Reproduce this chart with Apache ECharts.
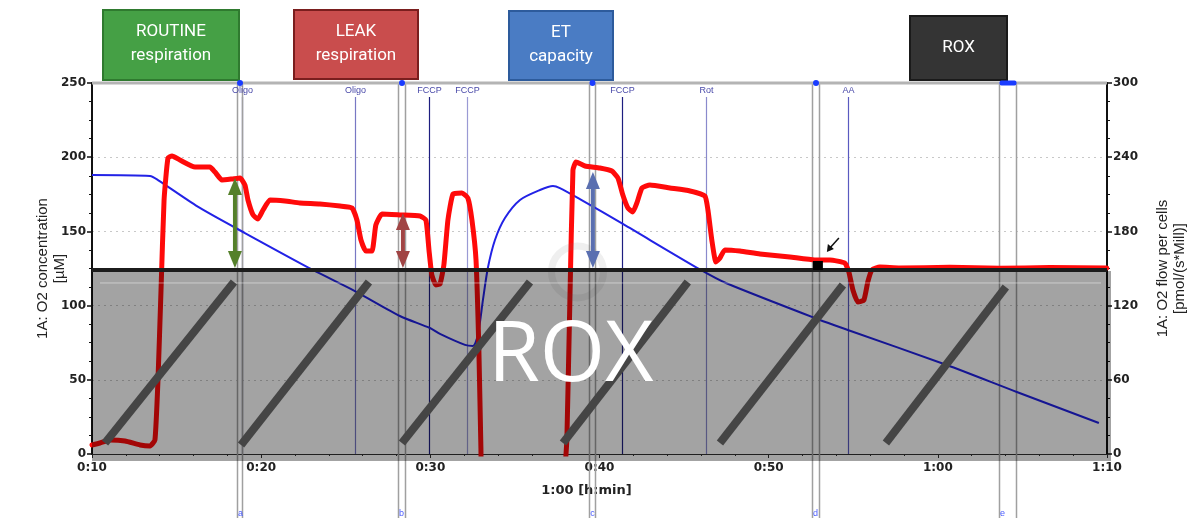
<!DOCTYPE html>
<html>
<head>
<meta charset="utf-8">
<script src="https://cdn.jsdelivr.net/npm/echarts@6/dist/echarts.min.js"></script>
<style>
  html, body { margin: 0; padding: 0; background: #fff; }
  #chart { width: 1192px; height: 518px; }
</style>
</head>
<body>
<div id="chart"></div>
<script>
// O2 flow per cells (red, right axis): [time min, pmol/(s*Mill)]
const flowPoints = [
  [10.0, 7.3], [10.47, 8.9], [11.06, 11.3], [11.95, 10.5], [12.84, 7.3], [13.43, 6.5], [13.72, 11.3],
  [13.90, 59.8], [14.08, 132.6], [14.26, 205.4], [14.49, 239.3], [14.73, 241], [15.2, 237.7],
  [16.09, 232], [16.97, 232], [17.27, 228], [17.68, 221.6], [18.27, 222.4], [18.75, 223.2],
  [19.04, 217.5], [19.22, 205.4], [19.52, 193.3], [19.81, 190], [20.11, 197.3], [20.52, 205.4],
  [21.41, 204.6], [22.29, 203], [23.47, 202.2], [24.66, 200.5], [25.37, 198.9], [25.66, 189.2],
  [25.90, 173], [26.19, 164.1], [26.55, 164.1], [26.78, 185.2], [27.14, 194], [28.20, 193.3],
  [29.39, 192.4], [29.74, 189.2], [29.92, 165], [30.09, 144.7], [30.33, 136.7], [30.57, 137.5],
  [30.80, 152.8], [31.04, 189.2], [31.34, 210.2], [31.87, 211], [32.22, 207], [32.46, 189.2],
  [32.70, 156.9], [32.87, 84.1], [32.99, 4.9], [33.10, -40], [37.90, -40], [37.96, -13],
  [38.07, 11.3], [38.25, 124.5], [38.43, 229.6], [38.61, 236.1], [39.14, 232.9], [40.02, 231.3],
  [40.73, 228.8], [41.09, 223.2], [41.38, 209.4], [41.68, 198.9], [41.97, 195.7], [42.21, 203],
  [42.51, 215.1], [42.98, 217.5], [44.16, 215.1], [45.35, 212.7], [46.23, 208.6], [46.41, 197.3],
  [46.64, 173], [46.88, 155.3], [47.12, 158.5], [47.41, 165], [48.30, 164.1], [49.48, 161.7],
  [51.25, 159.3], [52.73, 156.9], [53.62, 156.9], [54.5, 154.4], [54.74, 147.2], [54.98, 132.6],
  [55.27, 122.9], [55.63, 124.5], [55.86, 139.1], [56.10, 148.8], [56.57, 151.2], [57.75, 150.4],
  [60.71, 151], [63.66, 150.2], [66.62, 150.8], [69.99, 150.4]
];

// O2 concentration (blue, left axis): [time min, µM]
const concPoints = [
  [10.0, 188], [13.43, 187.3], [13.9, 184.6], [16.38, 165.8], [19.04, 148.9], [23.06, 124],
  [25.54, 109.8], [28.20, 93], [29.98, 84.9], [30.57, 80.9], [32.05, 73.5], [32.52, 72.8],
  [32.81, 80.2], [33.11, 103.8], [33.40, 125.3], [33.82, 144.2], [34.41, 159], [35.30, 171.2],
  [36.48, 177.9], [37.25, 180.6], [37.66, 179.2], [38.84, 171.8], [41.38, 155], [45.99, 124],
  [47.47, 115.2], [53.03, 90.3], [54.68, 83.6], [60.53, 60], [64.67, 41.8], [69.52, 20.9]
];

// titration events
const eventNames = ['Oligo', 'Oligo', 'FCCP', 'FCCP', 'FCCP', 'Rot', 'AA'];
const eventTimes = [18.87, 25.54, 29.92, 32.16, 41.32, 46.29, 54.68];

// marks a..e (start / end time)
const markNames = ['a', 'b', 'c', 'd', 'e'];
const markStart = [18.57, 28.09, 39.37, 52.55, 63.61];
const markEnd = [18.87, 28.50, 39.73, 52.96, 64.61];

// slashes over the ROX box: [time, µM]
const slashFrom = [[10.77, 7.4], [18.81, 6.1], [28.32, 7.4], [37.84, 7.4], [47.12, 7.4], [56.93, 7.4]];
const slashTo = [[18.39, 115.9], [26.37, 115.9], [35.89, 115.9], [45.22, 115.9], [54.39, 113.9], [64.02, 112.5]];

// double arrows: time, top µM
const arrowTimes = [18.45, 28.38, 39.61];
const arrowTops = [186, 162.4, 190];
const roxLevel = 124; // µM, thick black line
const tickLabels = ['0:10', '0:20', '0:30', '0:40', '0:50', '1:00', '1:10'];

// state boxes
const stateLabels = ['ROUTINE\nrespiration', 'LEAK\nrespiration', 'ET\ncapacity', 'ROX'];

// styles
const eventColors = ['#3a3a9a', '#7878c4', '#1e1e80', '#9a9ad4', '#1e1e80', '#8a8acc', '#5a5ac0'];
const arrowColors = ['#55802a', '#a04444', '#5a6fb0'];
const boxStyle = [
  { x: 103, y: 10, w: 136, h: 70, fill: '#45a045', stroke: '#2f7a2f' },
  { x: 294, y: 10, w: 124, h: 69, fill: '#c94d4d', stroke: '#7a1e1e' },
  { x: 509, y: 11, w: 104, h: 69, fill: '#4a7cc4', stroke: '#2d5b9c' },
  { x: 910, y: 16, w: 97, h: 64, fill: '#343434', stroke: '#1a1a1a' }
];

const labelFont = { fontFamily: 'DejaVu Sans', fontWeight: 'bold', fontSize: 12, color: '#222' };

const chart = echarts.init(document.getElementById('chart'));

const option = {
  animation: false,
  backgroundColor: '#fff',
  grid: { left: 92, right: 85, top: 83, bottom: 64, outerBoundsMode: 'none', containLabel: false },
  xAxis: {
    type: 'value', min: 10, max: 70, interval: 10,
    name: '1:00 [h:min]', nameLocation: 'middle', nameGap: 30,
    nameTextStyle: { fontFamily: 'DejaVu Sans', fontWeight: 'bold', fontSize: 13, color: '#222', padding: [0, 26, 0, 0] },
    axisLine: { lineStyle: { color: '#333', width: 1 } },
    axisTick: { length: 4, lineStyle: { color: '#333' } },
    minorTick: { show: true, splitNumber: 5, length: 2, lineStyle: { color: '#333' } },
    axisLabel: Object.assign({ margin: 8, fontSize: 13,
      formatter: v => tickLabels[Math.round((v - 10) / 10)] }, labelFont),
    splitLine: { show: false }
  },
  yAxis: [
    {
      type: 'value', min: 0, max: 250, interval: 50, position: 'left',
      name: '1A: O2 concentration\n[µM]', nameLocation: 'middle', nameGap: 24, nameRotate: 90,
      nameMoveOverlap: false,
      nameTextStyle: { fontFamily: 'Liberation Sans', fontSize: 15, color: '#222', lineHeight: 17 },
      axisLine: { show: true, lineStyle: { color: '#111', width: 2 } },
      axisTick: { show: true, length: 5, lineStyle: { color: '#111', width: 1.5 } },
      minorTick: { show: true, splitNumber: 4, length: 3, lineStyle: { color: '#111' } },
      axisLabel: Object.assign({ margin: 6 }, labelFont),
      splitLine: { lineStyle: { color: '#c8c8c8', type: [2, 4] } }
    },
    {
      type: 'value', min: 0, max: 300, interval: 60, position: 'right',
      name: '1A: O2 flow per cells\n[pmol/(s*Mill)]', nameLocation: 'middle', nameGap: 47, nameRotate: 90,
      nameTextStyle: { fontFamily: 'Liberation Sans', fontSize: 15, color: '#222', lineHeight: 17 },
      axisLine: { show: true, lineStyle: { color: '#111', width: 2 } },
      axisTick: { show: true, length: 5, lineStyle: { color: '#111', width: 1.5 } },
      minorTick: { show: true, splitNumber: 4, length: 3, lineStyle: { color: '#111' } },
      axisLabel: Object.assign({ margin: 6 }, labelFont),
      splitLine: { show: false }
    }
  ],
  series: [
    {
      name: 'O2 concentration', type: 'line', yAxisIndex: 0, z: 2,
      data: concPoints, showSymbol: false, smooth: 0.25,
      lineStyle: { color: '#2222e6', width: 2 }
    },
    {
      name: 'O2 flow', type: 'line', yAxisIndex: 1, z: 2,
      data: flowPoints, showSymbol: false, smooth: 0.15,
      lineStyle: { color: '#ff0a0a', width: 5, cap: 'round', join: 'round' }
    }
  ].concat(slashFrom.map((p, i) => ({
    type: 'line', yAxisIndex: 0, z: 8, silent: true,
    data: [p, slashTo[i]], showSymbol: false,
    lineStyle: { color: '#454545', width: 8, cap: 'butt' }
  })))
};

chart.setOption(option);

const px = (t, v) => chart.convertToPixel({ xAxisIndex: 0, yAxisIndex: 0 }, [t, v]);
const H = 518;
const topY = px(10, 250)[1];
const botY = px(10, 0)[1];
const leftX = px(10, 0)[0];
const rightX = px(70, 0)[0];
const roxY = px(10, roxLevel)[1];

const g = [];

// frame top line
g.push({ type: 'line', z: 6, shape: { x1: leftX, y1: topY, x2: rightX, y2: topY },
  style: { stroke: '#b4b4b4', lineWidth: 3 } });

// event lines + labels
eventTimes.forEach((t, i) => {
  const x = Math.round(px(t, 0)[0]) + 0.5;
  g.push({ type: 'line', z: 1, shape: { x1: x, y1: topY + 14, x2: x, y2: botY },
    style: { stroke: eventColors[i], lineWidth: 1.2 } });
  g.push({ type: 'text', z: 6, x: x, y: topY + 8,
    style: { text: eventNames[i], fill: '#4848a8', font: '9px "Liberation Sans"', align: 'center', verticalAlign: 'middle' } });
});

// marks: double grey lines to bottom, blue marker on top, letter at bottom
markNames.forEach((m, i) => {
  const x1 = Math.round(px(markStart[i], 0)[0]) + 0.5;
  const x2 = Math.round(px(markEnd[i], 0)[0]) + 0.5;
  [x1, x2].forEach(x => g.push({ type: 'line', z: 1, shape: { x1: x, y1: topY, x2: x, y2: H },
    style: { stroke: '#a0a0a0', lineWidth: 1.5 } }));
  if (i === 4) {
    g.push({ type: 'rect', z: 7, shape: { x: x1, y: topY - 2.5, width: x2 - x1, height: 5, r: 2 },
      style: { fill: '#1a3cff' } });
  } else {
    g.push({ type: 'circle', z: 7, shape: { cx: (x1 + x2) / 2, cy: topY, r: 3 }, style: { fill: '#1a3cff' } });
  }
  g.push({ type: 'text', z: 7, x: x1 + 3, y: H - 4,
    style: { text: m, fill: '#4a5cff', font: '9px "Liberation Sans"', align: 'center', verticalAlign: 'middle' } });
});

// grey ROX overlay (semi-transparent so traces show through darker)
g.push({ type: 'rect', z: 5, shape: { x: leftX, y: roxY + 1, width: rightX - leftX + 4, height: botY - roxY + 6 },
  style: { fill: 'rgba(0,0,0,0.36)' } });
g.push({ type: 'line', z: 5, shape: { x1: leftX + 8, y1: roxY + 13, x2: rightX - 6, y2: roxY + 13 },
  style: { stroke: 'rgba(255,255,255,0.45)', lineWidth: 1 } });
// faint watermark ring
const wm = px(38.7, roxLevel);
g.push({ type: 'circle', z: 4, shape: { cx: wm[0], cy: wm[1] + 2, r: 26 },
  style: { fill: 'none', stroke: 'rgba(120,120,120,0.12)', lineWidth: 7 } });
// thick black ROX level line
g.push({ type: 'line', z: 9, shape: { x1: leftX, y1: roxY, x2: rightX, y2: roxY },
  style: { stroke: '#1c1c1c', lineWidth: 4 } });

// double arrows
arrowTimes.forEach((t, i) => {
  const a = px(t, arrowTops[i]);
  const x = a[0], y1 = a[1], y2 = roxY - 2;
  const c = arrowColors[i];
  g.push({ type: 'line', z: 9, shape: { x1: x, y1: y1 + 10, x2: x, y2: y2 - 10 }, style: { stroke: c, lineWidth: 4 } });
  g.push({ type: 'polygon', z: 9, shape: { points: [[x, y1], [x - 7, y1 + 17], [x + 7, y1 + 17]] }, style: { fill: c } });
  g.push({ type: 'polygon', z: 9, shape: { points: [[x, y2], [x - 7, y2 - 17], [x + 7, y2 - 17]] }, style: { fill: c } });
});

// black marker square and little arrow
const sq = px(52.91, 126.7);
g.push({ type: 'rect', z: 9, shape: { x: sq[0] - 5, y: sq[1] - 5, width: 10, height: 9 }, style: { fill: '#000' } });
g.push({ type: 'line', z: 9, shape: { x1: sq[0] + 21, y1: sq[1] - 28, x2: sq[0] + 12, y2: sq[1] - 18 },
  style: { stroke: '#111', lineWidth: 1.5 } });
g.push({ type: 'polygon', z: 9, shape: { points: [[sq[0] + 9, sq[1] - 14], [sq[0] + 10, sq[1] - 22], [sq[0] + 16, sq[1] - 17]] },
  style: { fill: '#111' } });

// big ROX text
const rt = px(38.3, 65);
g.push({ type: 'text', z: 12, x: rt[0], y: rt[1],
  style: { text: 'ROX', fill: '#fff', font: '84px "Open Sans"', align: 'center', verticalAlign: 'middle' } });

// state boxes
stateLabels.forEach((s, i) => {
  const b = boxStyle[i];
  g.push({ type: 'rect', z: 6, shape: { x: b.x, y: b.y, width: b.w, height: b.h },
    style: { fill: b.fill, stroke: b.stroke, lineWidth: 2 } });
  g.push({ type: 'text', z: 7, x: b.x + b.w / 2, y: b.y + b.h / 2 + (i === 3 ? 0 : -1),
    style: { text: s, fill: '#fff', font: '17px Roboto', lineHeight: 24, align: 'center', verticalAlign: 'middle' } });
});

chart.setOption({ graphic: g });
</script>
</body>
</html>
